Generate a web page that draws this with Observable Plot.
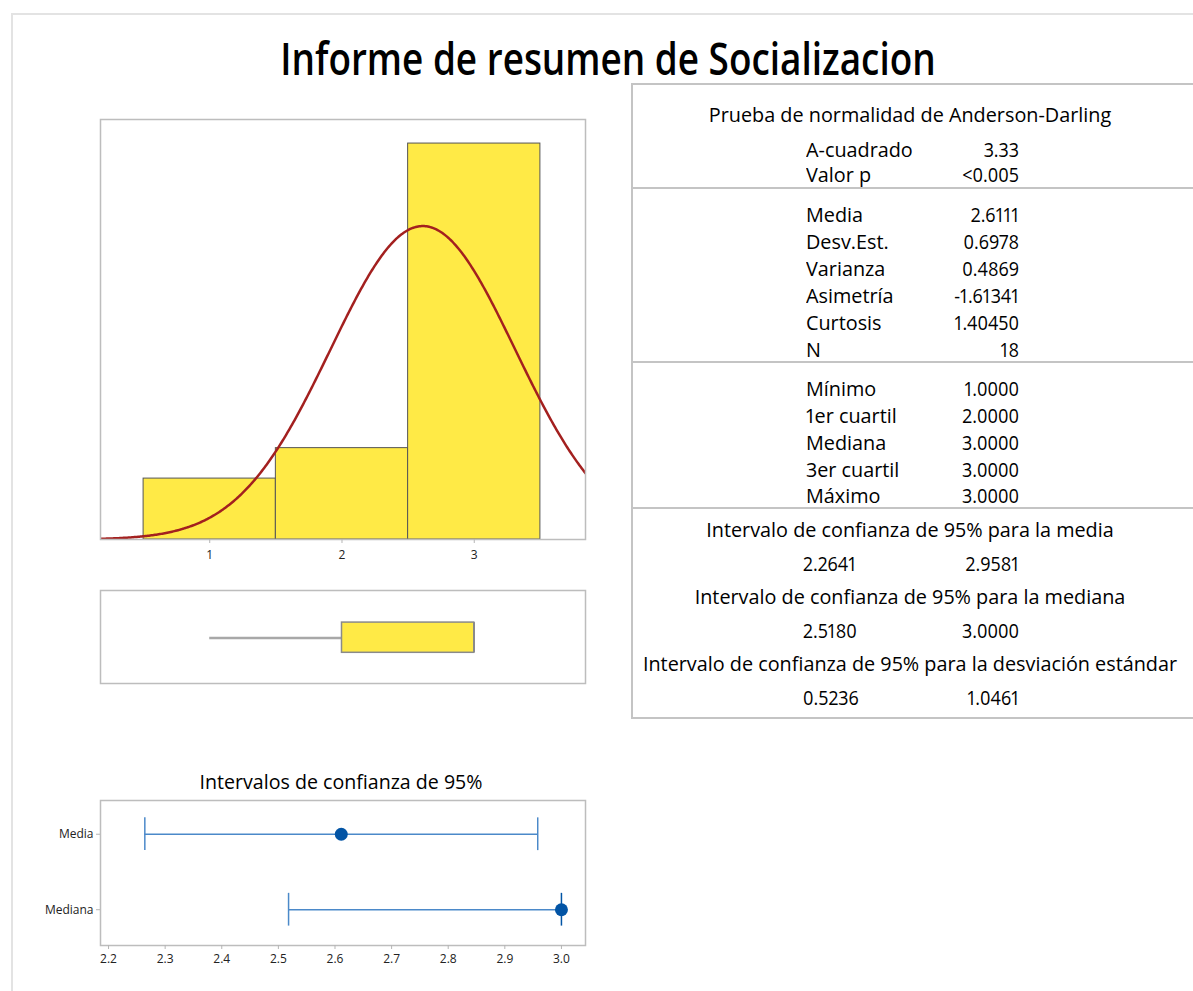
<!DOCTYPE html>
<html><head><meta charset="utf-8">
<script src="https://cdn.jsdelivr.net/npm/d3@7"></script>
<script src="https://cdn.jsdelivr.net/npm/@observablehq/plot@0.6"></script>
<style>
body{margin:0;background:#fff;}
#page{position:relative;width:1193px;height:991px;overflow:hidden;font-family:"Open Sans",sans-serif;color:#000;background:#fff;}
.t{position:absolute;white-space:nowrap;line-height:1;font-variant-numeric:proportional-nums;}
.ln{position:absolute;background:#c4c4c4;}
.pl{position:absolute;}
</style></head><body><div id="page"></div>
<script>
// ---------- data ----------
const chartTitle = "Informe de resumen de Socializacion";
const histBinLo = [0.5, 1.5, 2.5];
const histBinHi = [1.5, 2.5, 3.5];
const histCounts = [2, 3, 13];
const histTicks = [1, 2, 3];
const fitMean = 2.6111, fitSd = 0.6978, sampleN = 18;

const boxStatNames = ["Mínimo", "1er cuartil", "Mediana", "3er cuartil", "Máximo"];
const boxStatValues = [1, 2, 3, 3, 3];

const ciTitle = "Intervalos de confianza de 95%";
const ciNames = ["Media", "Mediana"];
const ciEstimates = [2.6111, 3.0];
const ciLower = [2.2641, 2.5180];
const ciUpper = [2.9581, 3.0000];
const ciTicks = [2.2, 2.3, 2.4, 2.5, 2.6, 2.7, 2.8, 2.9, 3.0];

const adHeading = "Prueba de normalidad de Anderson-Darling";
const adLabels = ["A-cuadrado", "Valor p"];
const adValues = ["3.33", "<0.005"];
const descLabels = ["Media", "Desv.Est.", "Varianza", "Asimetría", "Curtosis", "N"];
const descValues = ["2.6111", "0.6978", "0.4869", "-1.61341", "1.40450", "18"];
const quantValues = ["1.0000", "2.0000", "3.0000", "3.0000", "3.0000"];
const ciHeadings = ["Intervalo de confianza de 95% para la media",
  "Intervalo de confianza de 95% para la mediana",
  "Intervalo de confianza de 95% para la desviación estándar"];
const ciLowText = ["2.2641", "2.5180", "0.5236"];
const ciHighText = ["2.9581", "3.0000", "1.0461"];

// ---------- helpers ----------
const page = document.getElementById("page");
function txt(s, x, baseline, size, anchor = "left", k = 0.99, weight = 400, color = "#000") {
  const d = document.createElement("div");
  d.className = "t"; d.textContent = s;
  d.style.fontSize = size + "px";
  d.style.fontWeight = weight;
  d.style.color = color;
  d.style.left = x + "px";
  d.style.top = (baseline - 0.888 * size) + "px";
  const tx = anchor === "center" ? "-50%" : anchor === "right" ? "-100%" : "0";
  d.style.transformOrigin = anchor === "center" ? "center" : anchor;
  d.style.transform = `translateX(${tx}) scaleX(${k})`;
  page.appendChild(d);
}
function line(x, y, w, h, c = "#c4c4c4") {
  const d = document.createElement("div");
  d.className = "ln";
  Object.assign(d.style, {left: x + "px", top: y + "px", width: w + "px", height: h + "px", background: c});
  page.appendChild(d);
}
function place(svg, x, y, w) {
  const d = document.createElement("div");
  d.className = "pl";
  Object.assign(d.style, {left: x + "px", top: y + "px", width: w + "px"});
  d.appendChild(svg);
  page.appendChild(d);
}
const baseStyle = {fontFamily: "Open Sans, sans-serif", fontSize: "12px", color: "#333", background: "transparent", overflow: "visible"};
const yellow = "#ffea46";
const frameColor = "#bdbdbd";

// outer frame
line(11, 13, 1182, 1.5, "#e3e3e3");
line(11, 13, 1.5, 978, "#e3e3e3");

// title
txt(chartTitle, 608, 75, 45, "center", 0.82, 600);

// ---------- histogram ----------
const histXDomain = [0.1742, 3.841];
const curve = d3.range(0, 401).map(j => {
  const x = histXDomain[0] + (histXDomain[1] - histXDomain[0]) * j / 400;
  const z = (x - fitMean) / fitSd;
  return {x, y: sampleN * (histBinHi[0] - histBinLo[0]) * Math.exp(-0.5 * z * z) / (fitSd * Math.sqrt(2 * Math.PI))};
});
const hist = Plot.plot({
  width: 487, height: 449,
  marginLeft: 1, marginRight: 1, marginTop: 1, marginBottom: 28,
  style: baseStyle,
  x: {domain: histXDomain, label: null},
  y: {domain: [0, 13.79], axis: null},
  marks: [
    Plot.rect(d3.range(histCounts.length), {
      x1: i => histBinLo[i], x2: i => histBinHi[i], y1: 0, y2: i => histCounts[i],
      fill: yellow, stroke: "#555", strokeWidth: 1
    }),
    Plot.line(curve, {x: "x", y: "y", stroke: "#a3201f", strokeWidth: 2.5, clip: true}),
    Plot.frame({stroke: frameColor, strokeWidth: 1.5}),
    Plot.axisX(histTicks, {tickSize: 4, tickPadding: 7, tickFormat: d3.format("d"), label: null, stroke: "#b5b5b5", fill: "#222", fontSize: 12})
  ]
});
place(hist, 99, 118, 487);

// ---------- boxplot ----------
const [bMin, bQ1, bMed, bQ3, bMax] = boxStatValues;
const box = Plot.plot({
  width: 487, height: 95,
  marginLeft: 1, marginRight: 1, marginTop: 1, marginBottom: 1,
  style: baseStyle,
  x: {domain: histXDomain, axis: null},
  y: {domain: [1, 0], axis: null},
  marks: [
    Plot.ruleY([0.51], {x1: bMin, x2: bQ1, stroke: "#a8a8a8", strokeWidth: 2.5}),
    Plot.ruleY([0.51], {x1: bQ3, x2: bMax, stroke: "#a8a8a8", strokeWidth: 2.5}),
    Plot.rect([0], {x1: bQ1, x2: bQ3, y1: 0.345, y2: 0.67, fill: yellow, stroke: "#8a8a8a", strokeWidth: 1.5}),
    Plot.ruleX([bMed], {y1: 0.345, y2: 0.67, stroke: "#8a8a8a", strokeWidth: 1.5}),
    Plot.frame({stroke: frameColor, strokeWidth: 1.5})
  ]
});
place(box, 99, 589, 487);

// ---------- confidence intervals ----------
txt(ciTitle, 341, 790, 20, "center", 0.98);
const ciIdx = d3.range(ciNames.length);
const lightBlue = "#4b89c9", darkBlue = "#0254a5";
const ci = Plot.plot({
  width: 586, height: 176,
  marginLeft: 100, marginRight: 1, marginTop: 1, marginBottom: 30,
  style: baseStyle,
  x: {domain: [2.1858, 3.0425], label: null},
  y: {domain: [-0.447, 1.474], reverse: true, label: null},
  marks: [
    Plot.frame({stroke: frameColor, strokeWidth: 1.5}),
    Plot.ruleY(ciIdx, {y: i => i, x1: i => ciLower[i], x2: i => ciUpper[i], stroke: lightBlue, strokeWidth: 1.5}),
    Plot.ruleX(ciIdx, {x: i => ciLower[i], y1: i => i - 0.217, y2: i => i + 0.217, stroke: lightBlue, strokeWidth: 1.5}),
    Plot.ruleX(ciIdx, {x: i => ciUpper[i], y1: i => i - 0.217, y2: i => i + 0.217,
      stroke: i => ciUpper[i] === ciEstimates[i] ? darkBlue : lightBlue, strokeWidth: 1.5}),
    Plot.dot(ciIdx, {x: i => ciEstimates[i], y: i => i, r: 6.5, fill: darkBlue, symbol: "circle"}),
    Plot.axisX(ciTicks, {tickSize: 4, tickPadding: 5, tickFormat: d3.format(".1f"), label: null, stroke: "#b5b5b5", fill: "#222", fontSize: 12}),
    Plot.axisY(ciIdx, {tickSize: 4, tickPadding: 3, tickFormat: i => ciNames[i], label: null, stroke: "#b5b5b5", fill: "#222", fontSize: 12})
  ]
});
place(ci, 0, 799, 586);

// ---------- statistics table ----------
line(631, 83, 562, 1.5);
line(631, 83, 1.5, 636);
line(631, 187, 562, 1.5);
line(631, 361, 562, 1.5);
line(631, 507, 562, 1.5);
line(631, 717, 562, 1.5);

const TS = 20, labX = 806, valX = 1019, headX = 910;
txt(adHeading, headX, 123, TS, "center");
adLabels.forEach((s, i) => { txt(s, labX, 158 + 25 * i, TS); txt(adValues[i], valX, 158 + 25 * i, TS, "right", 0.9); });
descLabels.forEach((s, i) => { txt(s, labX, 223 + 27 * i, TS); txt(descValues[i], valX, 223 + 27 * i, TS, "right", 0.9); });
boxStatNames.forEach((s, i) => { txt(s, labX, 397 + 26.8 * i, TS); txt(quantValues[i], valX, 397 + 26.8 * i, TS, "right", 0.9); });
ciHeadings.forEach((s, i) => {
  const b = 538 + 67 * i;
  txt(s, headX, b, TS, "center");
  txt(ciLowText[i], 803, b + 34, TS, "left", 0.9);
  txt(ciHighText[i], valX, b + 34, TS, "right", 0.9);
});
</script></body></html>
